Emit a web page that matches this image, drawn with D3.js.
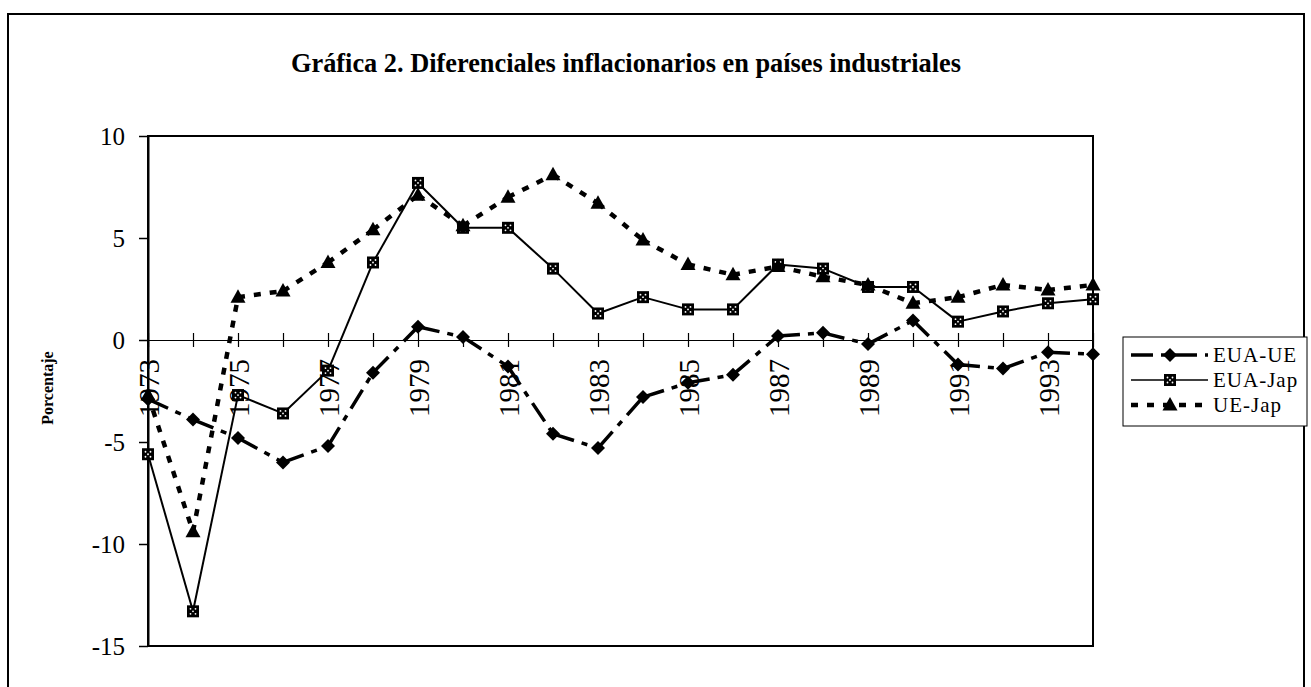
<!DOCTYPE html>
<html>
    <head>
        <meta charset="utf-8">
        <script src="https://cdnjs.cloudflare.com/ajax/libs/d3/7.8.5/d3.min.js"></script>
        <style>
            body{
                margin: 0;
                background: #fff;
            }
            svg text{
                font-family: "Liberation Serif", "Times New Roman", serif;
                fill: #000;
            }
            .title{
                font-weight: 700;
                font-size: 28px;
            }
            .tick text{
                font-size: 25px;
            }
            .x-axis .tick text{
                font-size: 29px;
            }
            .ylabel{
                font-weight: 700;
                font-size: 16px;
            }
            .legend-label{
                font-size: 21px;
                letter-spacing: 1px;
            }
        </style>
    </head>
    <body>
        <svg id="chart" width="1311" height="687"></svg>
    </body>
    <script>
        const years = ["1973","1974","1975","1976","1977","1978","1979","1980","1981","1982","1983",
                       "1984","1985","1986","1987","1988","1989","1990","1991","1992","1993","1994"]
        const euaUe  = [-2.9, -3.9, -4.8, -6.0, -5.2, -1.6, 0.65, 0.15, -1.3, -4.6, -5.3,
                        -2.8, -2.1, -1.7, 0.2, 0.35, -0.2, 0.95, -1.2, -1.4, -0.6, -0.7]
        const euaJap = [-5.6, -13.3, -2.7, -3.6, -1.5, 3.8, 7.7, 5.5, 5.5, 3.5, 1.3,
                        2.1, 1.5, 1.5, 3.7, 3.5, 2.6, 2.6, 0.9, 1.4, 1.8, 2.0]
        const ueJap  = [-2.7, -9.4, 2.1, 2.4, 3.8, 5.4, 7.1, 5.6, 7.0, 8.1, 6.7,
                        4.9, 3.7, 3.2, 3.6, 3.1, 2.7, 1.8, 2.1, 2.7, 2.45, 2.7]
        const seriesNames = ["EUA-UE", "EUA-Jap", "UE-Jap"]
        const yTicks = [-15, -10, -5, 0, 5, 10]

        const svg = d3.select("#chart")
        const plot = {left: 148, right: 1093, top: 136, bottom: 646}

        // outer frame
        svg.append("rect")
            .attr("x", 8).attr("y", 14)
            .attr("width", 1296).attr("height", 700)
            .attr("fill", "none").attr("stroke", "#000").attr("stroke-width", 2)

        svg.append("text")
            .attr("class", "title")
            .attr("x", 291).attr("y", 72)
            .attr("textLength", 670)
            .attr("lengthAdjust", "spacingAndGlyphs")
            .text("Gráfica 2. Diferenciales inflacionarios en países industriales")

        const x = d3.scalePoint().domain(years).range([plot.left, plot.right])
        const y = d3.scaleLinear().domain([-15, 10]).range([plot.bottom, plot.top])

        svg.append("rect")
            .attr("x", plot.left).attr("y", plot.top)
            .attr("width", plot.right - plot.left).attr("height", plot.bottom - plot.top)
            .attr("fill", "none").attr("stroke", "#000").attr("stroke-width", 2)

        const yAxis = svg.append("g")
            .attr("transform", `translate(${plot.left},0)`)
            .call(d3.axisLeft(y).tickValues(yTicks).tickFormat(d => String(d)).tickSize(9).tickSizeOuter(0).tickPadding(14))
        yAxis.select(".domain").attr("stroke-width", 2)
        yAxis.selectAll(".tick line").attr("stroke-width", 1.5)

        const xAxis = svg.append("g")
            .attr("class", "x-axis")
            .attr("transform", `translate(0,${y(0)})`)
            .call(d3.axisBottom(x).tickSize(0).tickSizeOuter(0).tickFormat((d, i) => i % 2 === 0 ? d : ""))
        xAxis.select(".domain").attr("stroke-width", 1.2)
        xAxis.selectAll(".tick line").attr("y1", -7).attr("y2", 7).attr("stroke-width", 1.2)
        xAxis.selectAll(".tick text")
            .attr("transform", "rotate(-90)")
            .attr("text-anchor", "end")
            .attr("x", -19).attr("y", 0)
            .attr("dy", "0.35em")

        svg.append("text")
            .attr("class", "ylabel")
            .attr("transform", "translate(53,388) rotate(-90)")
            .attr("text-anchor", "middle")
            .text("Porcentaje")

        const styles = [
            {values: euaUe,  dash: "22,8,6,8", width: 3.5, marker: "diamond"},
            {values: euaJap, dash: null,       width: 2,   marker: "square"},
            {values: ueJap,  dash: "7,9",      width: 4.5, marker: "triangle"}
        ]

        function drawMarker(g, type){
            if (type === "diamond"){
                g.append("path").attr("d", "M0,-7L7,0L0,7L-7,0Z").attr("fill", "#000")
            } else if (type === "triangle"){
                g.append("path").attr("d", "M0,-8L7.5,5.5L-7.5,5.5Z").attr("fill", "#000")
            } else {
                g.append("rect").attr("x", -6).attr("y", -6).attr("width", 12).attr("height", 12).attr("fill", "#000")
                const dots = [[-2.5,-2.5],[2.5,-2.5],[0,0],[-2.5,2.5],[2.5,2.5]]
                dots.forEach(p => g.append("circle").attr("cx", p[0]).attr("cy", p[1]).attr("r", 0.9).attr("fill", "#fff"))
            }
        }

        styles.forEach(s => {
            const pts = years.map((yr, i) => [x(yr), y(s.values[i])])
            // each segment restarts its dash pattern, like the original
            svg.append("g").selectAll("line")
                .data(d3.pairs(pts))
                .enter()
                .append("line")
                .attr("x1", d => d[0][0]).attr("y1", d => d[0][1])
                .attr("x2", d => d[1][0]).attr("y2", d => d[1][1])
                .attr("stroke", "#000")
                .attr("stroke-width", s.width)
                .attr("stroke-dasharray", s.dash)
            pts.forEach(p => {
                const g = svg.append("g").attr("transform", `translate(${p[0]},${p[1]})`)
                drawMarker(g, s.marker)
            })
        })

        // legend
        const legend = svg.append("g").attr("transform", "translate(1123,337)")
        legend.append("rect")
            .attr("width", 184).attr("height", 89)
            .attr("fill", "#fff").attr("stroke", "#000").attr("stroke-width", 1)
        seriesNames.forEach((name, i) => {
            const ly = 18 + i * 25
            legend.append("line")
                .attr("x1", 8).attr("x2", 85).attr("y1", ly).attr("y2", ly)
                .attr("stroke", "#000")
                .attr("stroke-width", i === 1 ? 1.5 : styles[i].width)
                .attr("stroke-dasharray", styles[i].dash)
            drawMarker(legend.append("g").attr("transform", `translate(47,${ly})`), styles[i].marker)
            legend.append("text")
                .attr("class", "legend-label")
                .attr("x", 90).attr("y", ly)
                .attr("dy", "0.35em")
                .text(name)
        })
    </script>
</html>
